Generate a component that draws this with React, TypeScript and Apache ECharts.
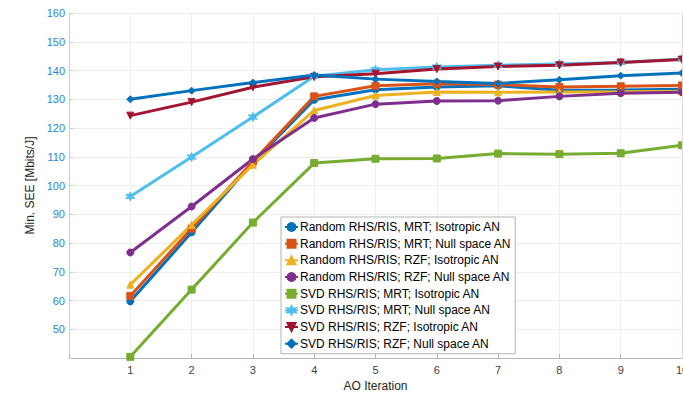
import React, { useEffect, useRef } from "react";
import * as echarts from "echarts";

// AO iteration index on the horizontal axis
const iterations = [1, 2, 3, 4, 5, 6, 7, 8, 9, 10];

// Minimum secrecy energy efficiency [Mbits/J] per scheme
const randomMrtIso = [59.7, 83.7, 108.0, 129.8, 133.3, 134.3, 134.7, 133.1, 133.2, 133.5];
const randomMrtNull = [61.6, 85.0, 108.3, 131.0, 134.7, 135.4, 135.1, 134.3, 134.5, 134.8];
const randomRzfIso = [65.5, 86.3, 107.2, 126.1, 131.3, 132.5, 132.4, 132.5, 132.6, 132.8];
const randomRzfNull = [76.7, 92.7, 109.2, 123.5, 128.3, 129.4, 129.5, 131.0, 132.1, 132.4];
const svdMrtIso = [40.4, 63.8, 87.1, 107.8, 109.3, 109.4, 111.1, 110.9, 111.2, 114.0];
const svdMrtNull = [96.2, 109.9, 123.8, 138.0, 140.3, 141.2, 141.8, 142.3, 142.8, 144.0];
const svdRzfIso = [124.3, 129.0, 134.2, 137.8, 138.9, 140.5, 141.4, 141.8, 142.8, 143.8];
const svdRzfNull = [130.0, 133.0, 135.8, 138.4, 137.0, 136.2, 135.5, 136.8, 138.2, 139.1];

const seriesNames = [
  "Random RHS/RIS, MRT; Isotropic AN",
  "Random RHS/RIS; MRT; Null space AN",
  "Random RHS/RIS; RZF; Isotropic AN",
  "Random RHS/RIS; RZF; Null space AN",
  "SVD RHS/RIS; MRT; Isotropic AN",
  "SVD RHS/RIS; MRT; Null space AN",
  "SVD RHS/RIS; RZF; Isotropic AN",
  "SVD RHS/RIS; RZF; Null space AN",
];

const seriesValues = [
  randomMrtIso,
  randomMrtNull,
  randomRzfIso,
  randomRzfNull,
  svdMrtIso,
  svdMrtNull,
  svdRzfIso,
  svdRzfNull,
];

const colors = [
  "#0072BD",
  "#D95319",
  "#EDB120",
  "#7E2F8E",
  "#77AC30",
  "#4DBEEE",
  "#A2142F",
  "#0072BD",
];

// six-pointed star marker
const starPath =
  "path://M5,0 L6.2,3 L9.3,2.5 L7.4,5 L9.3,7.5 L6.2,7 L5,10 L3.8,7 L0.7,7.5 L2.6,5 L0.7,2.5 L3.8,3 Z";

const symbols = [
  "circle",
  "rect",
  "triangle",
  "circle",
  "rect",
  starPath,
  "triangle",
  "diamond",
];
const symbolRotate = [0, 0, 0, 0, 0, 0, 180, 90];

export default function App() {
  const ref = useRef<HTMLDivElement>(null);

  useEffect(() => {
    if (!ref.current) return;
    const chart = echarts.init(ref.current, undefined, { renderer: "svg" });

    const series = seriesNames.map((name, i) => ({
      name,
      type: "line" as const,
      data: iterations.map((x, j) => [x, seriesValues[i][j]]),
      symbol: symbols[i],
      symbolSize: i === 5 ? 9 : 7,
      symbolRotate: symbolRotate[i],
      showAllSymbol: true,
      lineStyle: { width: 3, color: colors[i] },
      itemStyle: { color: colors[i], borderColor: colors[i], borderWidth: 1 },
      emphasis: { disabled: true },
      clip: true,
      ...(i === 0
        ? {
            markLine: {
              silent: true,
              symbol: "none",
              label: { show: false },
              lineStyle: { color: "#f4d2d2", width: 1, type: "solid" },
              data: [{ xAxis: 10 }],
            },
          }
        : {}),
    }));

    chart.setOption({
      animation: false,
      backgroundColor: "#ffffff",
      textStyle: { fontFamily: "Liberation Sans, Arial, sans-serif" },
      grid: {
        left: 69,
        right: 1,
        top: 13,
        bottom: 36,
        containLabel: false,
        outerBoundsMode: "none",
      },
      legend: {
        orient: "vertical",
        left: 281,
        top: 217,
        padding: [4, 4, 4, 3],
        itemGap: 4.67,
        itemWidth: 13,
        itemHeight: 10,
        backgroundColor: "#ffffff",
        borderColor: "#b3b3b3",
        borderWidth: 1,
        borderRadius: 0,
        textStyle: { fontSize: 12, color: "#000000", padding: [0, 0, 0, -3] },
        data: seriesNames,
      },
      xAxis: {
        type: "value",
        min: 0,
        max: 10,
        interval: 1,
        name: "AO Iteration",
        nameLocation: "middle",
        nameGap: 21,
        nameTextStyle: { fontSize: 12, color: "#262626" },
        axisLine: { show: true, lineStyle: { color: "#b5b5b5", width: 1 } },
        axisTick: { show: true, inside: true, length: 4, lineStyle: { color: "#b5b5b5" } },
        axisLabel: {
          fontSize: 11,
          color: "#404040",
          margin: 6,
          formatter: (v: number) => (v === 0 ? "" : String(v)),
        },
        splitLine: { show: true, lineStyle: { color: "#eeeeee", width: 1 } },
      },
      yAxis: {
        type: "value",
        min: 40,
        max: 160,
        interval: 10,
        name: "Min. SEE [Mbits/J]",
        nameLocation: "middle",
        nameGap: 29,
        nameTextStyle: { fontSize: 12, color: "#262626" },
        axisLine: { show: true, lineStyle: { color: "#b9d2e6", width: 1 } },
        axisTick: { show: true, inside: true, length: 4, lineStyle: { color: "#b9d2e6" } },
        axisLabel: {
          fontSize: 11,
          color: "#2f86cc",
          margin: 4,
          formatter: (v: number) => (v === 40 ? "" : String(v)),
        },
        splitLine: { show: true, lineStyle: { color: "#eeeeee", width: 1 } },
      },
      series,
    });

    return () => chart.dispose();
  }, []);

  return (
    <div
      ref={ref}
      style={{ position: "fixed", left: 0, top: 0, width: 683, height: 394 }}
    />
  );
}
